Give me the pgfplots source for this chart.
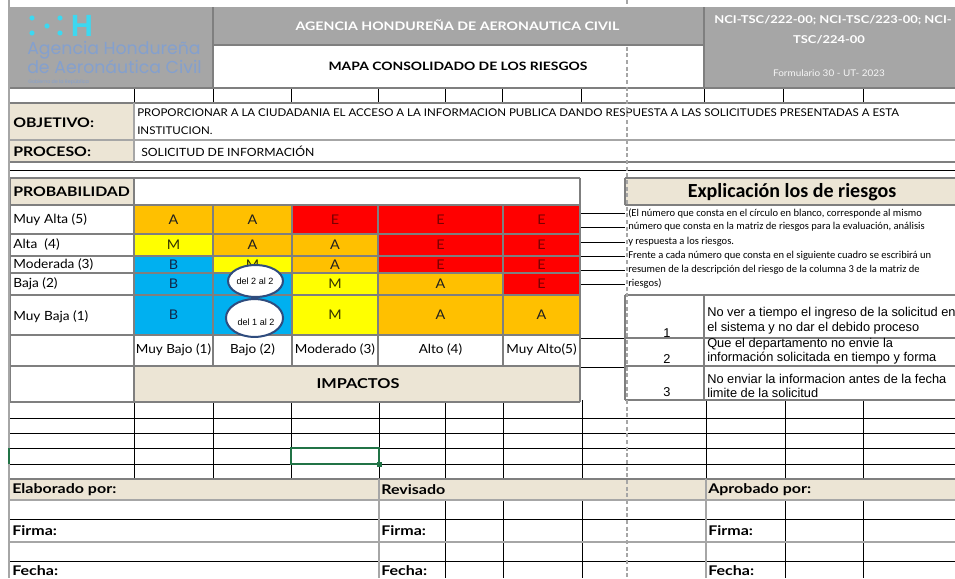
\documentclass[border=0pt]{standalone}
\usepackage{pgfplots}
\pgfplotsset{compat=1.18}
\usepackage{fontspec}
\setmainfont{Lato}[FakeStretch=1.08]
\newfontfamily\gillb{Lato}[FakeStretch=1.2]
\newfontfamily\calibri{Carlito}
\newfontfamily\arial{Liberation Sans}
\newfontfamily\logofont{Poppins}
\definecolor{hdr}{HTML}{A6A6A6}
\definecolor{beige}{HTML}{ECE5D5}
\definecolor{bgray}{HTML}{7F7F7F}
\definecolor{lgrid}{HTML}{DADADA}
\definecolor{mgray}{HTML}{A6A6A6}
\definecolor{cA}{HTML}{FFC000}
\definecolor{cE}{HTML}{FF0000}
\definecolor{cM}{HTML}{FFFF00}
\definecolor{cB}{HTML}{00B0F0}
\definecolor{tA}{HTML}{202020}
\definecolor{tE}{HTML}{7A0000}
\definecolor{tM}{HTML}{333300}
\definecolor{tB}{HTML}{10284A}
\definecolor{ellb}{HTML}{2F4C7E}
\definecolor{cyanlogo}{HTML}{3DD8F0}
\definecolor{logotxt}{HTML}{84A0CE}
\definecolor{xlgreen}{HTML}{217346}
\newcommand{\fs}[1]{\fontsize{#1}{#1}\selectfont}
\newcommand{\rect}[5]{\addplot[draw=none,fill=#5] coordinates {(#1,#3) (#2,#3) (#2,#4) (#1,#4)} -- cycle;}
\newcommand{\hl}[4]{\addplot[#4] coordinates {(#2,#1) (#3,#1)};}
\newcommand{\vl}[4]{\addplot[#4] coordinates {(#1,#2) (#1,#3)};}
\newcommand{\rc}[7]{\rect{#1}{#2}{#3}{#4}{c#7}\node[text=t#7,font=\fs{10}] at (axis cs:#5,#6) {#7};}
\tikzset{grid/.style={lgrid,line width=0.75pt},bord/.style={bgray,line width=1.5pt},mid/.style={mgray,line width=1.1pt}}
\begin{document}
\begin{tikzpicture}
\begin{axis}[hide axis, scale only axis, width=716.25pt, height=433.5pt,
  xmin=0, xmax=955, ymin=0, ymax=578, y dir=reverse, clip=false]
% background
\rect{0}{955}{0}{578}{white}
% ---------- light spreadsheet grid ----------
\vl{134}{88}{103}{grid}\vl{213}{88}{103}{grid}\vl{291}{88}{103}{grid}\vl{378}{88}{103}{grid}
\vl{445}{88}{103}{grid}\vl{502}{88}{103}{grid}\vl{581}{88}{103}{grid}\vl{704}{88}{103}{grid}
\vl{783}{88}{103}{grid}\vl{863}{88}{103}{grid}
\hl{170}{9}{955}{grid}
\hl{213}{580}{625}{grid}\hl{227}{580}{625}{grid}\hl{242}{580}{625}{grid}\hl{256}{580}{625}{grid}
\hl{270}{580}{625}{grid}\hl{284}{580}{625}{grid}\hl{338}{580}{625}{grid}\hl{367}{580}{625}{grid}
\hl{418}{9}{955}{grid}\hl{433}{9}{955}{grid}\hl{448}{9}{955}{grid}\hl{464}{9}{955}{grid}
\vl{134}{402}{479}{grid}\vl{213}{402}{479}{grid}\vl{291}{402}{479}{grid}\vl{379}{402}{479}{grid}
\vl{445}{402}{479}{grid}\vl{503}{402}{479}{grid}\vl{582}{400}{479}{grid}\vl{706}{400}{479}{grid}
\vl{785}{400}{479}{grid}\vl{863}{400}{479}{grid}
% ---------- header ----------
\rect{9}{213}{7}{88}{hdr}
\rect{213}{704}{7}{45}{hdr}
\rect{704}{955}{7}{88}{hdr}
\hl{45}{213}{704}{bord}
\vl{213}{7}{88}{bord}
\vl{704}{7}{88}{bord}
\hl{88}{9}{955}{bord}
% logo
\addplot[only marks, mark=*, mark size=1.7pt, cyanlogo] coordinates {(32,18) (32,33) (47,26) (60,18) (60,33)};
\node[text=cyanlogo,font=\arial\bfseries\fs{23}] at (axis cs:82,26) {H};
\node[anchor=west,inner sep=0pt,text=logotxt,font=\logofont\fs{13}] at (axis cs:27,50) {Agencia Hondureña};
\node[anchor=west,inner sep=0pt,text=logotxt,font=\logofont\fs{13}] at (axis cs:27,66.5) {de Aeronáutica Civil};
\node[anchor=west,inner sep=0pt,text=logotxt,font=\logofont\fs{3.6}] at (axis cs:28,82) {Gobierno de la República};
% header texts
\node[text=white,font=\gillb\bfseries\fs{8.85}] at (axis cs:457.5,25) {AGENCIA HONDUREÑA DE AERONAUTICA CIVIL};
\node[text=black,font=\gillb\bfseries\fs{8.7}] at (axis cs:458,66) {MAPA CONSOLIDADO DE LOS RIESGOS};
\node[text=white,font=\gillb\bfseries\fs{8.1}] at (axis cs:833,20) {NCI-TSC/222-00; NCI-TSC/223-00; NCI-};
\node[text=white,font=\gillb\bfseries\fs{8.1}] at (axis cs:829,40) {TSC/224-00};
\node[text=white!90!hdr,font=\fs{6.9}] at (axis cs:829,73) {Formulario 30 - UT- 2023};
% ---------- objetivo / proceso ----------
\rect{9}{134}{103}{162}{beige}
\hl{103}{9}{955}{bord}
\hl{140}{9}{955}{mid}
\hl{162}{9}{955}{bord}
\vl{134}{103}{162}{mid}
\node[anchor=west,inner sep=0pt,font=\gillb\bfseries\fs{9.9}] at (axis cs:13,123) {OBJETIVO:};
\node[anchor=west,inner sep=0pt,font=\gillb\bfseries\fs{9.9}] at (axis cs:13,152) {PROCESO:};
\node[anchor=west,inner sep=0pt,font=\fs{8.0}] at (axis cs:137,113) {PROPORCIONAR A LA CIUDADANIA EL ACCESO A LA INFORMACION PUBLICA DANDO RESPUESTA A LAS SOLICITUDES PRESENTADAS A ESTA};
\node[anchor=west,inner sep=0pt,font=\fs{8.0}] at (axis cs:137,131) {INSTITUCION.};
\node[anchor=west,inner sep=0pt,font=\fs{8.5}] at (axis cs:141,151) {SOLICITUD DE INFORMACIÓN};
% ---------- risk matrix ----------
\rect{10}{134}{178}{205}{beige}
\rect{134}{580}{366}{402}{beige}
% row 5 (Muy Alta)
\rc{134}{213}{205}{234}{173.5}{219.5}{A}
\rc{213}{292}{205}{234}{252.5}{219.5}{A}
\rc{292}{378}{205}{234}{335}{219.5}{E}
\rc{378}{503}{205}{234}{440.5}{219.5}{E}
\rc{503}{580}{205}{234}{541.5}{219.5}{E}
% row 4 (Alta)
\rc{134}{213}{234}{256}{173.5}{245}{M}
\rc{213}{292}{234}{256}{252.5}{245}{A}
\rc{292}{378}{234}{256}{335}{245}{A}
\rc{378}{503}{234}{256}{440.5}{245}{E}
\rc{503}{580}{234}{256}{541.5}{245}{E}
% row 3 (Moderada)
\rc{134}{213}{256}{273}{173.5}{264.5}{B}
\rc{213}{292}{256}{273}{252.5}{264.5}{M}
\rc{292}{378}{256}{273}{335}{264.5}{A}
\rc{378}{503}{256}{273}{440.5}{264.5}{E}
\rc{503}{580}{256}{273}{541.5}{264.5}{E}
% row 2 (Baja)  -- the B of column 2 lies under the white circle
\rc{134}{213}{273}{295}{173.5}{284}{B}
\rect{213}{292}{273}{295}{cB}
\rc{292}{378}{273}{295}{335}{284}{M}
\rc{378}{503}{273}{295}{440.5}{284}{A}
\rc{503}{580}{273}{295}{541.5}{284}{E}
% row 1 (Muy Baja)
\rc{134}{213}{295}{335}{173.5}{315}{B}
\rect{213}{292}{295}{335}{cB}
\rc{292}{378}{295}{335}{335}{315}{M}
\rc{378}{503}{295}{335}{440.5}{315}{A}
\rc{503}{580}{295}{335}{541.5}{315}{A}
% matrix borders
\hl{178}{10}{580}{bord}\hl{205}{10}{580}{bord}\hl{234}{10}{580}{bord}\hl{256}{10}{580}{bord}
\hl{273}{10}{580}{bord}\hl{295}{10}{580}{bord}\hl{335}{10}{580}{bord}\hl{366}{10}{580}{bord}
\hl{402}{10}{580}{bord}
\vl{10}{178}{402}{bord}\vl{134}{178}{402}{bord}\vl{580}{178}{402}{bord}
\vl{213}{205}{366}{bord}\vl{292}{205}{366}{bord}\vl{378}{205}{366}{bord}\vl{503}{205}{366}{bord}
% matrix labels
\node[anchor=west,inner sep=0pt,font=\gillb\bfseries\fs{9.9}] at (axis cs:13,191.5) {PROBABILIDAD};
\node[anchor=west,inner sep=0pt,font=\fs{9.5}] at (axis cs:13,219.5) {Muy Alta (5)};
\node[anchor=west,inner sep=0pt,font=\fs{9.5}] at (axis cs:13,245) {Alta \ (4)};
\node[anchor=west,inner sep=0pt,font=\fs{9.5}] at (axis cs:13,264.5) {Moderada (3)};
\node[anchor=west,inner sep=0pt,font=\fs{9.5}] at (axis cs:13,284) {Baja (2)};
\node[anchor=west,inner sep=0pt,font=\fs{9.5}] at (axis cs:13,317) {Muy Baja (1)};
\node[font=\fs{9.4}] at (axis cs:173.5,350) {Muy Bajo (1)};
\node[font=\fs{9.4}] at (axis cs:252.5,350) {Bajo (2)};
\node[font=\fs{9.4}] at (axis cs:335,350) {Moderado (3)};
\node[font=\fs{9.4}] at (axis cs:440.5,350) {Alto (4)};
\node[font=\fs{9.4}] at (axis cs:541.5,350) {Muy Alto(5)};
\node[font=\gillb\bfseries\fs{10.2}] at (axis cs:358,383.5) {IMPACTOS};
% ellipses
\draw[ellb,line width=1.5pt,fill=white] (axis cs:255.5,281) ellipse [x radius=20.6pt, y radius=12pt];
\draw[ellb,line width=1.5pt,fill=white] (axis cs:254.5,318) ellipse [x radius=21.4pt, y radius=14.2pt];
\node[font=\arial\fs{6.8}] at (axis cs:255,281) {del 2 al 2};
\node[font=\arial\fs{6.8}] at (axis cs:256,322) {del 1 al 2};
% ---------- explicacion ----------
\rect{625}{955}{178}{205}{beige}
\hl{178}{625}{955}{bord}\hl{205}{625}{955}{bord}\vl{625}{178}{205}{bord}
\node[font=\calibri\bfseries\fs{15}] at (axis cs:792,192) {Explicación los de riesgos};
\node[anchor=west,inner sep=0pt,font=\calibri\fs{7.9}] at (axis cs:628,213) {(El número que consta en el círculo en blanco, corresponde al mismo};
\node[anchor=west,inner sep=0pt,font=\calibri\fs{7.9}] at (axis cs:628,227) {número que consta en la matriz de riesgos para la evaluación, análisis};
\node[anchor=west,inner sep=0pt,font=\calibri\fs{7.9}] at (axis cs:628,242) {y respuesta a los riesgos.};
\node[anchor=west,inner sep=0pt,font=\calibri\fs{7.9}] at (axis cs:628,256) {Frente a cada número que consta en el siguiente cuadro se escribirá un};
\node[anchor=west,inner sep=0pt,font=\calibri\fs{7.9}] at (axis cs:628,270) {resumen de la descripción del riesgo de la columna 3 de la matriz de};
\node[anchor=west,inner sep=0pt,font=\calibri\fs{7.9}] at (axis cs:628,284) {riesgos)};
\hl{295}{625}{955}{bord}\hl{338}{625}{955}{bord}\hl{366}{625}{955}{bord}\hl{400}{625}{955}{bord}
\vl{625}{295}{400}{bord}\vl{704}{295}{400}{bord}
\node[font=\arial\fs{9.6}] at (axis cs:667,333) {1};
\node[font=\arial\fs{9.6}] at (axis cs:667,359) {2};
\node[font=\arial\fs{9.6}] at (axis cs:667,392) {3};
\node[anchor=west,inner sep=0pt,font=\arial\fs{9.6}] at (axis cs:707,313) {No ver a tiempo el ingreso de la solicitud en};
\node[anchor=west,inner sep=0pt,font=\arial\fs{9.6}] at (axis cs:707,328) {el sistema y no dar el debido proceso};
\node[anchor=west,inner sep=0pt,font=\arial\fs{9.6}] at (axis cs:707,344) {Que el departamento no envie la};
\node[anchor=west,inner sep=0pt,font=\arial\fs{9.6}] at (axis cs:707,358) {información solicitada en tiempo y forma};
\node[anchor=west,inner sep=0pt,font=\arial\fs{9.6}] at (axis cs:707,379) {No enviar la informacion antes de la fecha};
\node[anchor=west,inner sep=0pt,font=\arial\fs{9.6}] at (axis cs:707,393) {limite de la solicitud};
% ---------- bottom signatures ----------
\rect{9}{955}{479}{500}{beige}
\vl{445}{500}{578}{grid}\vl{503}{500}{578}{grid}\vl{582}{500}{578}{grid}
\vl{785}{500}{578}{grid}\vl{863}{500}{578}{grid}
\hl{479}{9}{955}{bord}
\hl{500}{9}{955}{mid}
\hl{519}{9}{955}{grid}
\hl{542}{9}{955}{mid}
\hl{561}{9}{955}{grid}
\vl{379}{479}{578}{mid}\vl{706}{479}{578}{mid}
\node[anchor=west,inner sep=0pt,font=\gillb\bfseries\fs{10}] at (axis cs:12,490) {Elaborado por:};
\node[anchor=west,inner sep=0pt,font=\gillb\bfseries\fs{10}] at (axis cs:381,490) {Revisado};
\node[anchor=west,inner sep=0pt,font=\gillb\bfseries\fs{10}] at (axis cs:708,490) {Aprobado por:};
\node[anchor=west,inner sep=0pt,font=\gillb\bfseries\fs{10}] at (axis cs:12,531) {Firma:};
\node[anchor=west,inner sep=0pt,font=\gillb\bfseries\fs{10}] at (axis cs:381,531) {Firma:};
\node[anchor=west,inner sep=0pt,font=\gillb\bfseries\fs{10}] at (axis cs:708,531) {Firma:};
\node[anchor=west,inner sep=0pt,font=\gillb\bfseries\fs{10}] at (axis cs:12,570.5) {Fecha:};
\node[anchor=west,inner sep=0pt,font=\gillb\bfseries\fs{10}] at (axis cs:381,570.5) {Fecha:};
\node[anchor=west,inner sep=0pt,font=\gillb\bfseries\fs{10}] at (axis cs:708,570.5) {Fecha:};
% selected cell
\addplot[xlgreen,line width=1.4pt] coordinates {(291,448) (379,448) (379,464) (291,464)} -- cycle;
\addplot[only marks, mark=square*, mark size=1.6pt, xlgreen] coordinates {(379,464)};
% left border and row highlight
\vl{9}{0}{578}{mid}
\vl{9}{448}{464}{xlgreen,line width=1.6pt}
% page break dashed line
\vl{627}{0}{578}{mgray,line width=0.9pt,dash pattern=on 3pt off 2pt}
\end{axis}
\pgfresetboundingbox
\useasboundingbox (current axis.south west) rectangle (current axis.north east);
\end{tikzpicture}
\end{document}
